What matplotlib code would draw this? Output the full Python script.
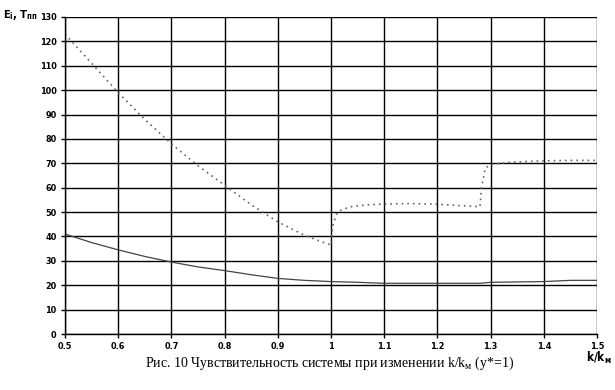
import numpy as np
import matplotlib.pyplot as plt

# dotted curve (E_i)
k_e = [0.5, 0.55, 0.6, 0.65, 0.7, 0.75, 0.8, 0.85, 0.9, 0.95, 0.98, 1.0,
       1.003, 1.01, 1.02, 1.04, 1.07, 1.1, 1.15, 1.2, 1.25, 1.28,
       1.283, 1.29, 1.3, 1.33, 1.37, 1.4, 1.45, 1.5]
e_vals = [123, 111, 99, 88, 78, 69, 61, 53, 46, 40.5, 38, 36.5,
          44, 49, 51, 52.3, 53, 53.3, 53.5, 53.2, 52.6, 52.2,
          60, 68, 69.5, 70.3, 70.8, 71, 71.2, 71.2]

# solid curve (T_pp)
k_t = [0.5, 0.55, 0.6, 0.65, 0.7, 0.75, 0.8, 0.85, 0.9, 0.95, 1.0,
       1.05, 1.1, 1.2, 1.28, 1.3, 1.4, 1.45, 1.5]
t_vals = [41, 37.5, 34.5, 31.8, 29.5, 27.5, 26, 24.3, 22.8, 22, 21.5,
          21.2, 20.8, 20.8, 20.8, 21.2, 21.5, 22, 22]

xticks = [0.5, 0.6, 0.7, 0.8, 0.9, 1.0, 1.1, 1.2, 1.3, 1.4, 1.5]
xlabels = ['0.5', '0.6', '0.7', '0.8', '0.9', '1', '1.1', '1.2', '1.3', '1.4', '1.5']
yticks = list(range(0, 131, 10))

narrow = ['DejaVu Sans Condensed', 'Liberation Sans Narrow', 'DejaVu Sans']

fig = plt.figure(figsize=(6.15, 3.9), dpi=100)
ax = fig.add_axes([65 / 615, 56 / 390, 532 / 615, 317 / 390])

ax.plot(k_e, e_vals, color='#666666', lw=1.2, linestyle=(0, (1.0, 2.4)))
ax.plot(k_t, t_vals, color='#444444', lw=0.9)

ax.set_xlim(0.5, 1.5)
ax.set_ylim(0, 130)
ax.set_xticks(xticks)
ax.set_xticklabels(xlabels)
ax.set_yticks(yticks)
ax.grid(True, color='black', lw=1.0)
for s in ax.spines.values():
    s.set_visible(False)
ax.spines['left'].set_visible(True)
ax.spines['left'].set_linewidth(1.0)
ax.spines['bottom'].set_visible(True)
ax.spines['bottom'].set_linewidth(1.0)
ax.tick_params(length=3, width=1, labelsize=6.5, pad=3)
for lab in ax.get_xticklabels() + ax.get_yticklabels():
    lab.set_family(narrow)
    lab.set_fontweight('bold')
    lab.set_fontstretch('condensed')

fig.text(3 / 615, 1 - 15 / 390, 'E$_\\mathregular{i}$, T$_\\mathregular{пп}$',
         fontsize=8, fontweight='bold', family=narrow, fontstretch='condensed',
         va='center', ha='left')
fig.text(612 / 615, 1 - 358 / 390, 'k/k$_\\mathregular{м}$',
         fontsize=8.5, fontweight='bold', family=narrow, fontstretch='condensed',
         va='center', ha='right')
fig.text(330 / 615, 1 - 363 / 390,
         'Рис. 10 Чувствительность системы при изменении k/k$_\\mathregular{м}$ (y*=1)',
         fontsize=10, family=['Liberation Serif', 'DejaVu Serif'], va='center', ha='center')

fig.savefig('out.png', dpi=100)
